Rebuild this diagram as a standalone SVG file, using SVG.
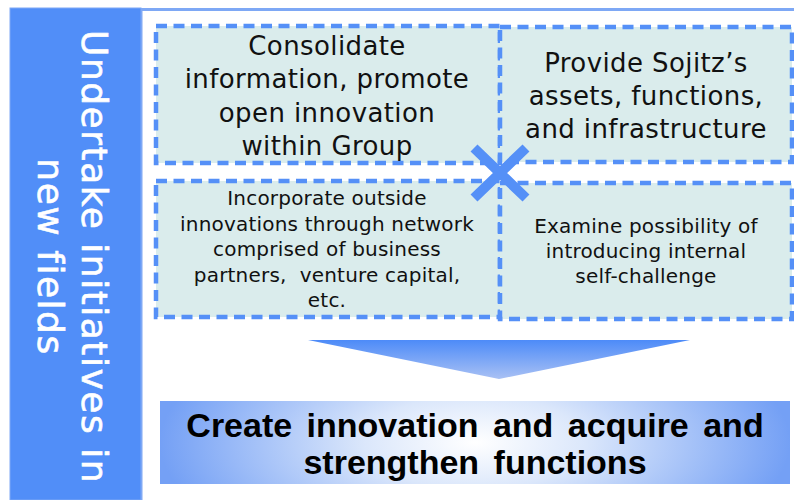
<svg xmlns="http://www.w3.org/2000/svg" width="794" height="500" viewBox="0 0 794 500">
<style>
.box{fill:#daecec;stroke:#5590f7;stroke-width:4.5;stroke-dasharray:11 6.5}
.big{font-family:"DejaVu Sans",Verdana,sans-serif;font-size:26px;fill:#111;text-anchor:middle;letter-spacing:0.4px}
.small{font-family:"DejaVu Sans",Verdana,sans-serif;font-size:20px;fill:#111;text-anchor:middle;letter-spacing:0.2px;white-space:pre}
.side{font-family:"DejaVu Sans",Verdana,sans-serif;font-size:36px;fill:#fff;text-anchor:middle;letter-spacing:1.5px;stroke:#fff;stroke-width:0.6}
.res{font-family:"Liberation Sans",Arial,sans-serif;font-weight:bold;font-size:34px;fill:#000;text-anchor:middle;word-spacing:5px}
</style>
<defs>
<linearGradient id="tri" x1="0" y1="0" x2="0" y2="1">
<stop offset="0" stop-color="#4d8bf8"/>
<stop offset="1" stop-color="#a9c1f4"/>
</linearGradient>
<radialGradient id="res" cx="0.5" cy="0.5" r="0.5" gradientTransform="translate(0.5 0.5) scale(1 3.2) translate(-0.5 -0.5)">
<stop offset="0" stop-color="#ffffff"/>
<stop offset="0.35" stop-color="#dbe7fb"/>
<stop offset="1" stop-color="#74a0f5"/>
</radialGradient>
</defs>
<g id="frame">
<rect x="141" y="9.5" width="660" height="500" fill="#fff" stroke="#7ea8f5" stroke-width="3"/>
</g>
<g id="side">
<rect x="10" y="8" width="131" height="492" fill="#518ef8" stroke="#7ea8f5" stroke-width="1"/>
<text class="side" transform="translate(82 257) rotate(90)">Undertake initiatives in</text>
<text class="side" transform="translate(38 257) rotate(90)">new fields</text>
</g>
<g id="box1">
<rect class="box" x="156" y="26" width="344" height="137"/>
<text class="big" x="327" y="55">Consolidate</text>
<text class="big" x="327" y="88">information, promote</text>
<text class="big" x="327" y="122">open innovation</text>
<text class="big" x="327" y="155">within Group</text>
</g>
<g id="box2">
<rect class="box" x="500" y="27" width="292" height="135"/>
<text class="big" x="646" y="72">Provide Sojitz’s</text>
<text class="big" x="646" y="105">assets, functions,</text>
<text class="big" x="646" y="138">and infrastructure</text>
</g>
<g id="box3">
<rect class="box" x="156" y="181" width="344" height="136"/>
<text class="small" x="327" y="205">Incorporate outside</text>
<text class="small" x="327" y="231">innovations through network</text>
<text class="small" x="327" y="256">comprised of business</text>
<text class="small" x="327" y="282">partners,  venture capital,</text>
<text class="small" x="327" y="307">etc.</text>
</g>
<g id="box4">
<rect class="box" x="500" y="183" width="292" height="136"/>
<text class="small" x="646" y="233">Examine possibility of</text>
<text class="small" x="646" y="258">introducing internal</text>
<text class="small" x="646" y="283">self-challenge</text>
</g>
<g id="connectors">
<path d="M474 148 L526 198 M526 148 L474 198" stroke="#5590f7" stroke-width="10" fill="none"/>
<polygon points="308,340 690,340 499,379" fill="url(#tri)"/>
</g>
<g id="result">
<rect x="160" y="401" width="630" height="83" fill="url(#res)"/>
<text class="res" x="475" y="437">Create innovation and acquire and</text>
<text class="res" x="475" y="474">strengthen functions</text>
</g>
</svg>
